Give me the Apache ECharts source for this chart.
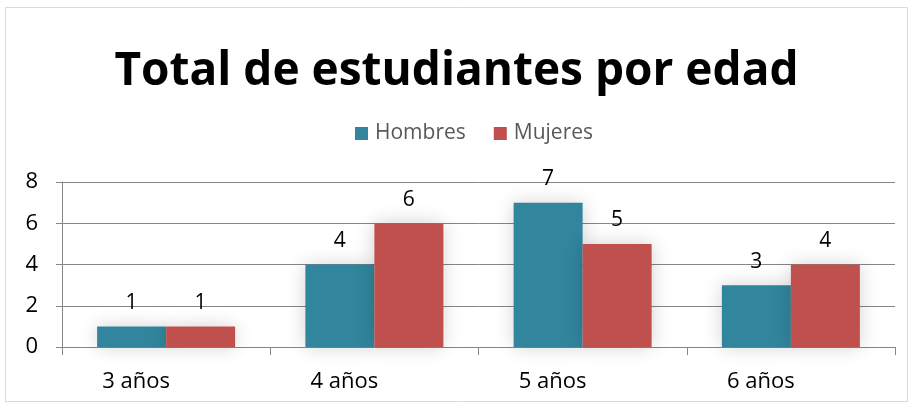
<!DOCTYPE html>
<html><head><meta charset="utf-8">
<script src="https://cdn.jsdelivr.net/npm/echarts@6/dist/echarts.min.js"></script>
<style>html,body{margin:0;padding:0;background:#fff}#c{width:913px;height:408px}</style>
</head><body><div id="c"></div>
<script>
var categories = ['3 años', '4 años', '5 años', '6 años'];
var hombres = [1, 4, 7, 3];
var mujeres = [1, 6, 5, 4];
var yTicks = [0, 2, 4, 6, 8];

var chart = echarts.init(document.getElementById('c'));
var font = 'Open Sans';
chart.setOption({
  animation: false,
  backgroundColor: '#fff',
  title: {
    text: 'Total de estudiantes por edad',
    left: 'center', top: 44,
    textStyle: {fontFamily: font, fontWeight: 'bold', fontSize: 46, color: '#000'}
  },
  legend: {
    top: 118, left: 350,
    itemWidth: 13, itemHeight: 13, itemGap: 28,
    icon: 'rect',
    textStyle: {fontFamily: font, fontSize: 21, color: '#595959', padding: [0, 0, 0, 2]}
  },
  graphic: [{
    type: 'rect', shape: {x: 5.5, y: 7.5, width: 902, height: 394},
    style: {fill: 'none', stroke: '#d9d9d9', lineWidth: 1}, silent: true, z: -1
  }],
  grid: {left: 62, right: 18, top: 182, bottom: 61},
  xAxis: {
    type: 'category', data: categories,
    axisLine: {lineStyle: {color: '#868686'}},
    axisTick: {show: true, length: 8, lineStyle: {color: '#868686'}},
    axisLabel: {fontFamily: font, fontSize: 22, color: '#000', margin: 24, padding: [0, 60, 0, 0]}
  },
  yAxis: {
    type: 'value', min: yTicks[0], max: yTicks[yTicks.length - 1], interval: 2,
    axisLine: {show: true, lineStyle: {color: '#868686'}},
    axisTick: {show: true, length: 6, inside: false, lineStyle: {color: '#868686'}},
    axisLabel: {fontFamily: font, fontSize: 22, color: '#000', margin: 24},
    splitLine: {lineStyle: {color: '#868686'}}
  },
  series: [{
    name: 'Hombres', type: 'bar', data: hombres, barWidth: 69, barGap: '0%',
    itemStyle: {color: '#31859C', shadowBlur: 18, shadowColor: 'rgba(0,0,0,0.18)', shadowOffsetX: 0, shadowOffsetY: 0},
    label: {show: true, position: 'top', distance: 13, fontFamily: font, fontSize: 21, color: '#000'}
  }, {
    name: 'Mujeres', type: 'bar', data: mujeres, barWidth: 69,
    itemStyle: {color: '#C0504D', shadowBlur: 18, shadowColor: 'rgba(0,0,0,0.18)', shadowOffsetX: 0, shadowOffsetY: 0},
    label: {show: true, position: 'top', distance: 13, fontFamily: font, fontSize: 21, color: '#000'}
  }]
});
</script></body></html>
